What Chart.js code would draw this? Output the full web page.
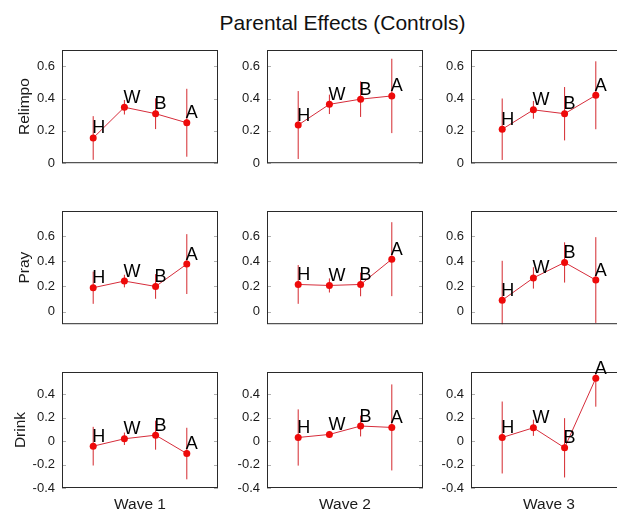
<!DOCTYPE html>
<html>
<head>
<meta charset="utf-8">
<script src="https://cdn.jsdelivr.net/npm/chart.js@4"></script>
<style>
  html, body { margin: 0; padding: 0; background: #fff; }
  #fig { position: relative; width: 617px; height: 510px; overflow: hidden; background: #fff; }
  #fig canvas { position: absolute; }
  #title {
    position: absolute; left: 0; top: 12px; width: 685px; text-align: center;
    font: 21px/21px "Liberation Sans", Arial, sans-serif; color: #111; white-space: nowrap;
  }
</style>
</head>
<body>
<div id="fig"><div id="title">Parental Effects (Controls)</div></div>
<script>
// Columns = survey waves, rows = outcome measures, points = parent groups
const waves = ['Wave 1', 'Wave 2', 'Wave 3'];
const measures = ['Relimpo', 'Pray', 'Drink'];
const groups = ['H', 'W', 'B', 'A'];
const groupX = [1, 2, 3, 4];

// Effect estimates (one row per wave, one value per group)
const relimpoMean = [
  [0.156, 0.346, 0.306, 0.25],
  [0.236, 0.364, 0.396, 0.416],
  [0.21, 0.33, 0.306, 0.42]
];
const relimpoErr = [
  [0.135, 0.045, 0.095, 0.21],
  [0.21, 0.06, 0.11, 0.23],
  [0.19, 0.055, 0.165, 0.21]
];
const prayMean = [
  [0.19, 0.243, 0.2, 0.378],
  [0.216, 0.208, 0.216, 0.417],
  [0.091, 0.268, 0.391, 0.251]
];
const prayErr = [
  [0.128, 0.05, 0.098, 0.238],
  [0.154, 0.056, 0.094, 0.294],
  [0.313, 0.085, 0.16, 0.341]
];
const drinkMean = [
  [-0.043, 0.02, 0.051, -0.106],
  [0.031, 0.057, 0.129, 0.117],
  [0.031, 0.114, -0.057, 0.537]
];
const drinkErr = [
  [0.165, 0.053, 0.124, 0.22],
  [0.24, 0.03, 0.089, 0.367],
  [0.307, 0.069, 0.253, 0.243]
];

// Y-axis limits and ticks per measure row
const yMin = [0, -0.1, -0.4];
const yMax = [0.7, 0.8, 0.59];
const yTicks = [
  [0, 0.2, 0.4, 0.6],
  [0, 0.2, 0.4, 0.6],
  [-0.4, -0.2, 0, 0.2, 0.4]
];
const yTickLabels = [
  ['0', '0.2', '0.4', '0.6'],
  ['0', '0.2', '0.4', '0.6'],
  ['-0.4', '-0.2', '0', '0.2', '0.4']
];

const meanRows = [relimpoMean, prayMean, drinkMean];
const errRows = [relimpoErr, prayErr, drinkErr];

// Panel grid geometry
const PLOT_W = 156, PLOT_H = 116;
const COL_LEFT = [62, 267, 471];
const ROW_TOP = [50, 211, 372];
const AXIS_W = 62, PAD_T = 20, PAD_R = 10;
const PAD_B = [12, 12, 24];

const FONT = '"Liberation Sans", Arial, sans-serif';
const LINE_COLOR = 'rgb(214, 44, 58)';
const ERR_COLOR = 'rgb(212, 40, 46)';
const MARK_COLOR = 'rgb(238, 10, 10)';
const FRAME_COLOR = '#2a2a2a';
const TEXT_COLOR = '#1a1a1a';

// Box around the axes with small inward tick marks on both sides
const panelFrame = {
  id: 'panelFrame',
  afterDatasetsDraw(chart) {
    const { ctx, chartArea: a, scales: { y } } = chart;
    ctx.save();
    ctx.strokeStyle = '#b0b0b0';
    ctx.lineWidth = 1;
    ctx.beginPath();
    y.ticks.forEach(t => {
      const py = Math.round(y.getPixelForValue(t.value)) + 0.5;
      ctx.moveTo(a.left, py); ctx.lineTo(a.left + 4, py);
      ctx.moveTo(a.right - 4, py); ctx.lineTo(a.right, py);
    });
    ctx.stroke();
    ctx.strokeStyle = FRAME_COLOR;
    ctx.strokeRect(a.left + 0.5, a.top + 0.5, a.width - 1, a.height - 1);
    ctx.restore();
  }
};

// Group letter written just above and to the right of each mean marker
const groupLetters = {
  id: 'groupLetters',
  afterDatasetsDraw(chart) {
    const { ctx } = chart;
    const pts = chart.getDatasetMeta(0).data;
    ctx.save();
    ctx.font = '18px ' + FONT;
    ctx.fillStyle = '#000';
    ctx.textAlign = 'left';
    ctx.textBaseline = 'alphabetic';
    pts.forEach((p, i) => ctx.fillText(groups[i], p.x - 1, p.y - 4.5));
    ctx.restore();
  }
};

const fig = document.getElementById('fig');

for (let r = 0; r < measures.length; r++) {
  for (let c = 0; c < waves.length; c++) {
    const mean = meanRows[r][c];
    const err = errRows[r][c];

    const canvas = document.createElement('canvas');
    canvas.width = AXIS_W + PLOT_W + PAD_R;
    canvas.height = PAD_T + PLOT_H + PAD_B[r];
    canvas.style.left = (COL_LEFT[c] - AXIS_W) + 'px';
    canvas.style.top = (ROW_TOP[r] - PAD_T) + 'px';
    fig.appendChild(canvas);

    const meanSet = {
      data: groupX.map((x, i) => ({ x, y: mean[i] })),
      borderColor: LINE_COLOR,
      borderWidth: 1,
      pointRadius: 3.5,
      pointBackgroundColor: MARK_COLOR,
      pointBorderColor: MARK_COLOR,
      pointBorderWidth: 0,
      tension: 0,
      order: 0
    };
    const errSets = groupX.map((x, i) => ({
      data: [{ x, y: mean[i] - err[i] }, { x, y: mean[i] + err[i] }],
      borderColor: ERR_COLOR,
      borderWidth: 1,
      pointRadius: 0,
      order: 1
    }));

    new Chart(canvas, {
      type: 'line',
      data: { datasets: [meanSet, ...errSets] },
      options: {
        responsive: false,
        animation: false,
        events: [],
        layout: { padding: { top: PAD_T, right: PAD_R, left: 0, bottom: 0 } },
        plugins: { legend: { display: false }, tooltip: { enabled: false } },
        scales: {
          x: {
            type: 'linear', min: 0, max: 5,
            grid: { display: false, drawTicks: false },
            border: { display: false },
            ticks: { display: false },
            title: {
              display: r === measures.length - 1,
              text: waves[c],
              color: TEXT_COLOR,
              font: { family: FONT, size: 15.5, lineHeight: 1 },
              padding: { top: 0, bottom: 0 }
            },
            afterFit: s => { s.height = PAD_B[r]; }
          },
          y: {
            type: 'linear', min: yMin[r], max: yMax[r],
            grid: { display: false, drawTicks: false },
            border: { display: false },
            ticks: {
              padding: 7,
              color: TEXT_COLOR,
              font: { family: FONT, size: 13 },
              callback: v => yTickLabels[r][yTicks[r].indexOf(v)]
            },
            afterBuildTicks: s => { s.ticks = yTicks[r].map(v => ({ value: v })); },
            title: {
              display: c === 0,
              text: measures[r],
              color: TEXT_COLOR,
              font: { family: FONT, size: 15.5, lineHeight: 1 },
              padding: { top: r === 2 ? 13 : 17, bottom: 0 }
            },
            afterFit: s => { s.width = AXIS_W; }
          }
        }
      },
      plugins: [panelFrame, groupLetters]
    });
  }
}
</script>
</body>
</html>
